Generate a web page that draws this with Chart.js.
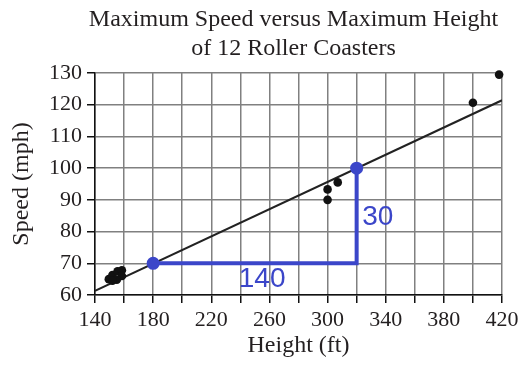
<!DOCTYPE html>
<html><head><meta charset="utf-8">
<script src="https://cdn.jsdelivr.net/npm/chart.js@4.4.1/dist/chart.umd.min.js"></script>
<style>html,body{margin:0;padding:0;background:#fff}#wrap{width:531px;height:370px}</style>
</head><body><div id="wrap"><canvas id="c" width="531" height="370"></canvas></div>
<script>
const titleLines = ['Maximum Speed versus Maximum Height', 'of 12 Roller Coasters'];
const xAxisTitle = 'Height (ft)';
const yAxisTitle = 'Speed (mph)';
// 12 roller coasters
const heights = [149.5, 152, 155.5, 158.5, 158.5, 155, 152, 300, 300, 307, 400, 418];
const speeds  = [65, 66.3, 67.5, 67.8, 66, 64.8, 64.5, 93.3, 90, 95.5, 120.6, 129.5];
// line of best fit (endpoints as drawn)
const fitX = [140, 420];
const fitY = [61.3, 121.4];
// blue slope triangle
const guideX = [180, 320, 320];
const guideY = [70, 70, 100];
const guideLabels = ['140', '30'];
const guideLabelX = [255, 334.5];
const guideLabelY = [65, 84.6];
// axes
const xMin = 140, xMax = 420, xStep = 20;
const xTickLabels = [140, 180, 220, 260, 300, 340, 380, 420];
const yMin = 60, yMax = 130, yStep = 10;

const BLUE = '#3b46c9';
const INK = '#231f20';
const SERIF = '"Liberation Serif", "Times New Roman", serif';

const overlay = {
  id: 'overlay',
  afterDatasetsDraw(chart) {
    const ctx = chart.ctx;
    const xs = chart.scales.x, ys = chart.scales.y;
    ctx.save();
    ctx.fillStyle = BLUE;
    ctx.font = '28px "Liberation Sans", Arial, sans-serif';
    ctx.textAlign = 'center';
    ctx.textBaseline = 'middle';
    guideLabels.forEach((t, i) => {
      ctx.fillText(t, xs.getPixelForValue(guideLabelX[i]), ys.getPixelForValue(guideLabelY[i]));
    });
    ctx.restore();
  },
  afterDraw(chart) {
    const ctx = chart.ctx;
    const ca = chart.chartArea;
    ctx.save();
    ctx.fillStyle = INK;
    ctx.font = '24px ' + SERIF;
    ctx.textAlign = 'center';
    ctx.textBaseline = 'alphabetic';
    const cx = (ca.left + ca.right) / 2 - 5;
    ctx.fillText(titleLines[0], cx, 26);
    ctx.fillText(titleLines[1], cx, 55);
    ctx.restore();
  }
};

new Chart(document.getElementById('c'), {
  type: 'scatter',
  data: {
    datasets: [
      {
        label: 'guide',
        type: 'line',
        data: guideX.map((x, i) => ({x, y: guideY[i]})),
        borderColor: BLUE,
        backgroundColor: BLUE,
        borderWidth: 4,
        pointRadius: c => (c.dataIndex === 1 ? 0 : 6.5),
        pointBorderWidth: 0,
        fill: false,
        tension: 0,
        clip: false
      },
      {
        label: 'coasters',
        data: heights.map((x, i) => ({x, y: speeds[i]})),
        backgroundColor: '#111',
        borderColor: '#111',
        pointRadius: 4.3,
        pointBorderWidth: 0,
        clip: false
      },
      {
        label: 'fit',
        type: 'line',
        data: fitX.map((x, i) => ({x, y: fitY[i]})),
        borderColor: '#222',
        borderWidth: 2,
        pointRadius: 0,
        fill: false,
        tension: 0
      }
    ]
  },
  options: {
    responsive: false,
    animation: false,
    devicePixelRatio: 1,
    layout: { padding: { top: 73, right: 29, bottom: 0, left: 0 } },
    plugins: { legend: { display: false }, tooltip: { enabled: false }, title: { display: false } },
    scales: {
      x: {
        type: 'linear',
        min: xMin, max: xMax,
        afterFit: s => { s.height = 75; },
        ticks: {
          stepSize: xStep,
          autoSkip: false,
          maxRotation: 0,
          color: INK,
          font: { family: SERIF, size: 22 },
          padding: 4,
          callback: v => (xTickLabels.includes(v) ? String(v) : '')
        },
        grid: { color: '#808080', lineWidth: 1.5, tickLength: 8, tickColor: '#111', tickWidth: 1.5 },
        border: { color: '#111', width: 1.5 },
        title: { display: true, text: xAxisTitle, color: INK, font: { family: SERIF, size: 24 }, padding: { top: 0, bottom: 10 } }
      },
      y: {
        min: yMin, max: yMax,
        afterFit: s => { s.width = 95; },
        ticks: {
          stepSize: yStep,
          color: INK,
          font: { family: SERIF, size: 22 },
          padding: 5
        },
        grid: { color: '#808080', lineWidth: 1.5, tickLength: 8, tickColor: '#111', tickWidth: 1.5 },
        border: { color: '#111', width: 1.5 },
        title: { display: true, text: yAxisTitle, color: INK, font: { family: SERIF, size: 24 }, padding: { top: 7, bottom: 0 } }
      }
    }
  },
  plugins: [overlay]
});
</script>
</body></html>
